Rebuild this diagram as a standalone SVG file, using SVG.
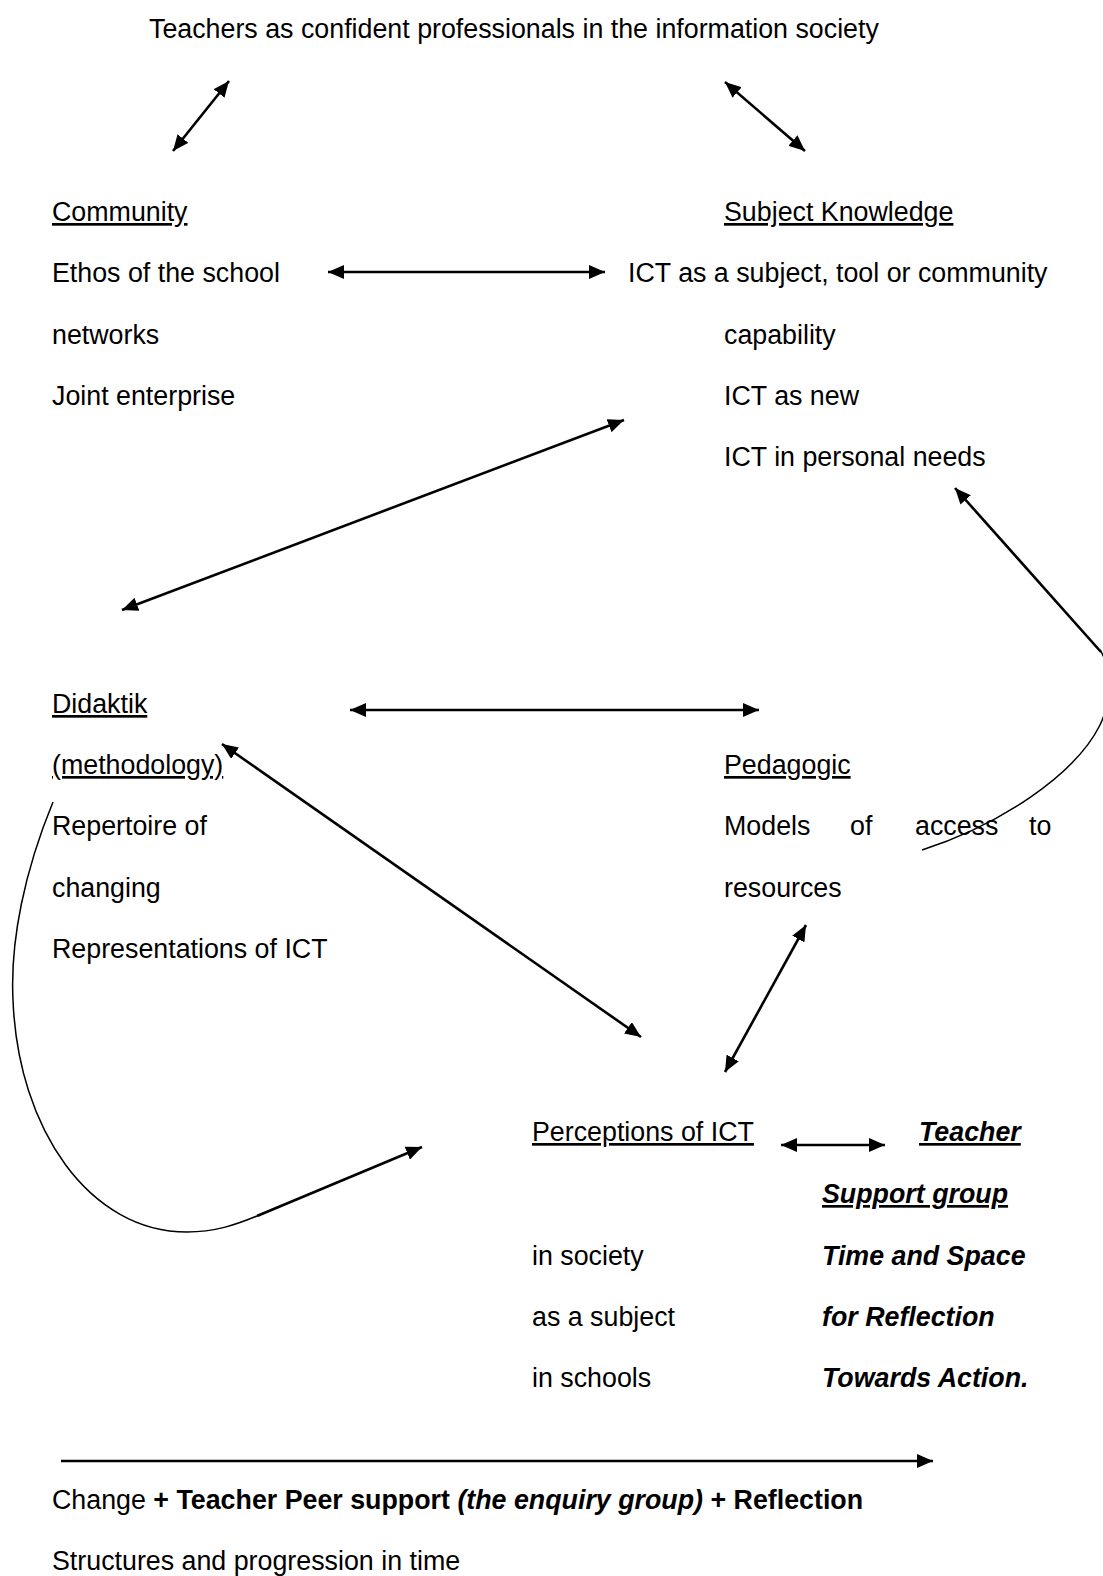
<svg xmlns="http://www.w3.org/2000/svg" width="1103" height="1576" viewBox="0 0 1103 1576">
<style>
text{font-family:"Liberation Sans",Arial,sans-serif;font-size:26.8px;fill:#000}
.u{text-decoration:underline}
.b{font-weight:bold}
.bi{font-weight:bold;font-style:italic}
.ar{stroke:#000;stroke-width:2.6;fill:none}
.cv{stroke:#000;stroke-width:1.5;fill:none}
</style>
<defs>
<marker id="ah" viewBox="0 0 16 14" refX="16" refY="7" markerWidth="16" markerHeight="14" orient="auto-start-reverse" markerUnits="userSpaceOnUse"><path d="M0,0 L16,7 L0,14 z" fill="#000"/></marker>
</defs>
<rect width="1103" height="1576" fill="#fff"/>
<g id="title"><text x="149" y="38">Teachers as confident professionals in the information society</text></g>
<g id="community">
<text x="52" y="221" class="u">Community</text>
<text x="52" y="282">Ethos of the school</text>
<text x="52" y="344">networks</text>
<text x="52" y="405">Joint enterprise</text>
</g>
<g id="subject-knowledge">
<text x="724" y="221" class="u">Subject Knowledge</text>
<text x="628" y="282">ICT as a subject, tool or community</text>
<text x="724" y="344">capability</text>
<text x="724" y="405">ICT as new</text>
<text x="724" y="466">ICT in personal needs</text>
</g>
<g id="didaktik">
<text x="52" y="713" class="u">Didaktik</text>
<text x="52" y="774" class="u">(methodology)</text>
<text x="52" y="835">Repertoire of</text>
<text x="52" y="897">changing</text>
<text x="52" y="958">Representations of ICT</text>
</g>
<g id="pedagogic">
<text x="724" y="774" class="u">Pedagogic</text>
<text y="835"><tspan x="724">Models</tspan><tspan x="850">of</tspan><tspan x="915">access</tspan><tspan x="1029">to</tspan></text>
<text x="724" y="897">resources</text>
</g>
<g id="perceptions">
<text x="532" y="1141" class="u">Perceptions of ICT</text>
<text x="532" y="1265">in society</text>
<text x="532" y="1326">as a subject</text>
<text x="532" y="1387">in schools</text>
</g>
<g id="support">
<text x="919" y="1141" class="bi u">Teacher</text>
<text x="822" y="1203" class="bi u">Support group</text>
<text x="822" y="1265" class="bi">Time and Space</text>
<text x="822" y="1326" class="bi">for Reflection</text>
<text x="822" y="1387" class="bi">Towards Action.</text>
</g>
<g id="footer">
<text x="52" y="1509">Change <tspan class="b">+ Teacher Peer support </tspan><tspan class="bi">(the enquiry group)</tspan><tspan class="b"> + Reflection</tspan></text>
<text x="52" y="1570">Structures and progression in time</text>
</g>
<g id="connectors">
<line class="ar" x1="173" y1="151" x2="229" y2="81" marker-start="url(#ah)" marker-end="url(#ah)"/>
<line class="ar" x1="725" y1="82" x2="805" y2="151" marker-start="url(#ah)" marker-end="url(#ah)"/>
<line class="ar" x1="328" y1="272" x2="605" y2="272" marker-start="url(#ah)" marker-end="url(#ah)"/>
<line class="ar" x1="624" y1="420" x2="122" y2="610" marker-start="url(#ah)" marker-end="url(#ah)"/>
<line class="ar" x1="350" y1="710" x2="759" y2="710" marker-start="url(#ah)" marker-end="url(#ah)"/>
<line class="ar" x1="222" y1="744" x2="641" y2="1037" marker-start="url(#ah)" marker-end="url(#ah)"/>
<line class="ar" x1="806" y1="925" x2="725" y2="1072" marker-start="url(#ah)" marker-end="url(#ah)"/>
<line class="ar" x1="781" y1="1145" x2="885" y2="1145" marker-start="url(#ah)" marker-end="url(#ah)"/>
<path class="cv" d="M53,802 C25,870 10,940 13,1000 C18,1130 90,1232 187,1232 C215,1232 235,1225 257,1216"/>
<line class="ar" x1="257" y1="1216" x2="422" y2="1147" marker-end="url(#ah)"/>
<line class="ar" x1="1101" y1="652" x2="955" y2="488" marker-end="url(#ah)"/>
<path class="cv" d="M1100,650 C1112,668 1110,705 1100,725 C1075,775 1000,825 922,850"/>
<line class="ar" x1="61" y1="1461" x2="933" y2="1461" marker-end="url(#ah)"/>
</g>
</svg>
